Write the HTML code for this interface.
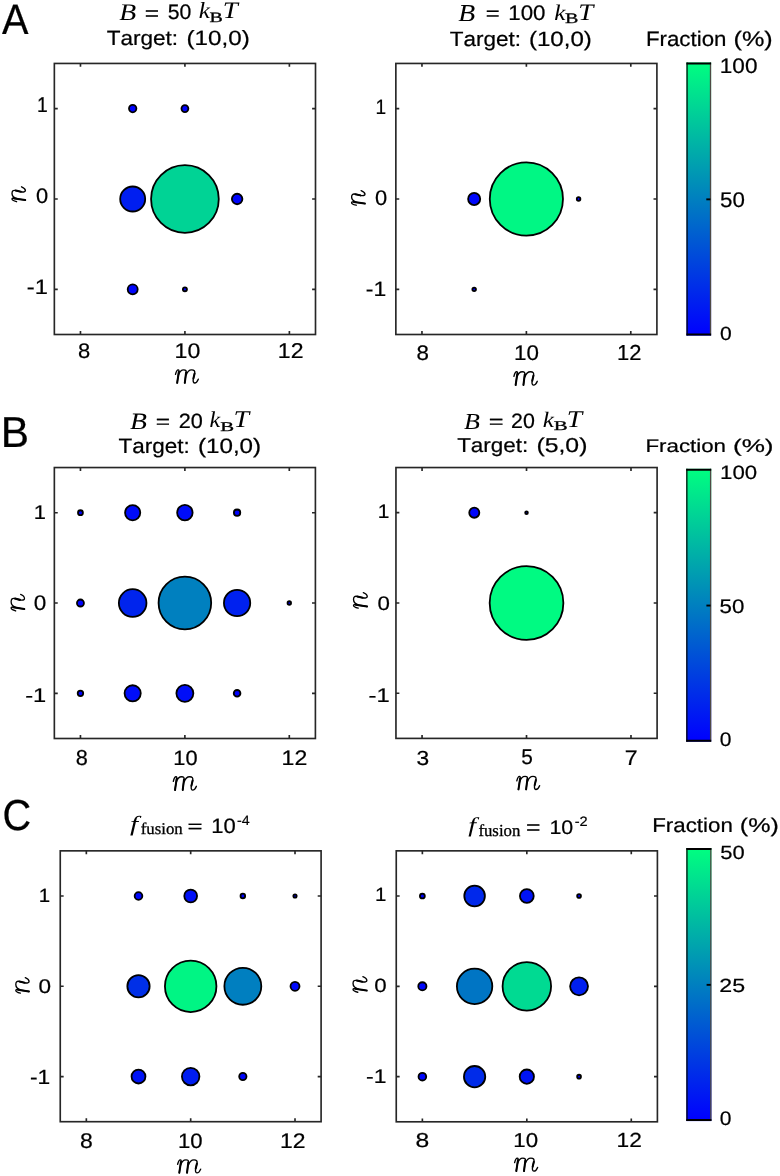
<!DOCTYPE html>
<html><head><meta charset="utf-8"><style>
html,body{margin:0;padding:0;background:#fff;}
svg{display:block;will-change:transform;}
text{font-kerning:none;text-rendering:geometricPrecision;}
</style></head><body>
<svg width="780" height="1176" viewBox="0 0 780 1176">
<rect width="780" height="1176" fill="#fff"/>
<circle cx="132.69" cy="108.62" r="3.70" fill="rgb(0,3,254)" stroke="#000" stroke-width="1.8"/>
<circle cx="184.92" cy="108.62" r="3.45" fill="rgb(0,2,254)" stroke="#000" stroke-width="1.8"/>
<circle cx="132.69" cy="198.98" r="12.50" fill="rgb(0,30,240)" stroke="#000" stroke-width="1.8"/>
<circle cx="184.92" cy="198.98" r="33.85" fill="rgb(0,211,149)" stroke="#000" stroke-width="1.8"/>
<circle cx="237.15" cy="198.98" r="5.25" fill="rgb(0,5,252)" stroke="#000" stroke-width="1.8"/>
<circle cx="132.69" cy="289.33" r="5.00" fill="rgb(0,5,252)" stroke="#000" stroke-width="1.8"/>
<circle cx="184.92" cy="289.33" r="2.05" fill="rgb(0,1,255)" stroke="#000" stroke-width="1.8"/>
<rect x="54.35" y="63.45" width="261.15" height="271.05" fill="none" stroke="#262626" stroke-width="1.65"/>
<path d="M80.47,334.50v-3.4M80.47,63.45v3.4M184.92,334.50v-3.4M184.92,63.45v3.4M289.38,334.50v-3.4M289.38,63.45v3.4M54.35,289.33h3.4M315.50,289.33h-3.4M54.35,198.98h3.4M315.50,198.98h-3.4M54.35,108.62h3.4M315.50,108.62h-3.4" stroke="#262626" stroke-width="1.65" fill="none"/>
<circle cx="474.17" cy="198.98" r="6.05" fill="rgb(0,7,251)" stroke="#000" stroke-width="1.8"/>
<circle cx="526.38" cy="198.98" r="36.60" fill="rgb(0,247,132)" stroke="#000" stroke-width="1.8"/>
<circle cx="578.59" cy="198.98" r="1.80" fill="rgb(0,1,255)" stroke="#000" stroke-width="1.8"/>
<circle cx="474.17" cy="289.33" r="1.80" fill="rgb(0,1,255)" stroke="#000" stroke-width="1.8"/>
<rect x="395.85" y="63.45" width="261.05" height="271.05" fill="none" stroke="#262626" stroke-width="1.65"/>
<path d="M421.96,334.50v-3.4M421.96,63.45v3.4M526.38,334.50v-3.4M526.38,63.45v3.4M630.79,334.50v-3.4M630.79,63.45v3.4M395.85,289.33h3.4M656.90,289.33h-3.4M395.85,198.98h3.4M656.90,198.98h-3.4M395.85,108.62h3.4M656.90,108.62h-3.4" stroke="#262626" stroke-width="1.65" fill="none"/>
<defs><linearGradient id="ga" x1="0" y1="1" x2="0" y2="0"><stop offset="0" stop-color="rgb(0,0,255)"/><stop offset="1" stop-color="rgb(0,255,128)"/></linearGradient></defs>
<rect x="686.50" y="62.50" width="24.60" height="273.10" fill="url(#ga)"/>
<path d="M687.05,62.50V335.60" stroke="#000" stroke-width="1.2" fill="none"/>
<path d="M710.50,62.50V335.60" stroke="#4f4a45" stroke-width="1.3" fill="none"/>
<path d="M686.50,63.50H711.10M686.50,334.60H711.10" stroke="#000" stroke-width="2" fill="none"/>
<path d="M710.50,199.35h-4.2" stroke="#000" stroke-width="1.9" fill="none"/>
<circle cx="80.45" cy="512.71" r="2.45" fill="rgb(0,1,254)" stroke="#000" stroke-width="1.8"/>
<circle cx="132.66" cy="512.71" r="7.60" fill="rgb(0,11,249)" stroke="#000" stroke-width="1.8"/>
<circle cx="184.88" cy="512.71" r="7.75" fill="rgb(0,12,249)" stroke="#000" stroke-width="1.8"/>
<circle cx="237.09" cy="512.71" r="3.20" fill="rgb(0,2,254)" stroke="#000" stroke-width="1.8"/>
<circle cx="80.45" cy="603.02" r="3.50" fill="rgb(0,3,254)" stroke="#000" stroke-width="1.8"/>
<circle cx="132.66" cy="603.02" r="13.80" fill="rgb(0,36,237)" stroke="#000" stroke-width="1.8"/>
<circle cx="184.88" cy="603.02" r="26.30" fill="rgb(0,128,191)" stroke="#000" stroke-width="1.8"/>
<circle cx="237.09" cy="603.02" r="13.15" fill="rgb(0,33,239)" stroke="#000" stroke-width="1.8"/>
<circle cx="289.30" cy="603.02" r="1.75" fill="rgb(0,1,255)" stroke="#000" stroke-width="1.8"/>
<circle cx="80.45" cy="693.34" r="2.75" fill="rgb(0,2,254)" stroke="#000" stroke-width="1.8"/>
<circle cx="132.66" cy="693.34" r="8.10" fill="rgb(0,13,249)" stroke="#000" stroke-width="1.8"/>
<circle cx="184.88" cy="693.34" r="8.50" fill="rgb(0,14,248)" stroke="#000" stroke-width="1.8"/>
<circle cx="237.09" cy="693.34" r="3.35" fill="rgb(0,2,254)" stroke="#000" stroke-width="1.8"/>
<rect x="54.35" y="467.55" width="261.05" height="270.95" fill="none" stroke="#262626" stroke-width="1.65"/>
<path d="M80.45,738.50v-3.4M80.45,467.55v3.4M184.88,738.50v-3.4M184.88,467.55v3.4M289.30,738.50v-3.4M289.30,467.55v3.4M54.35,693.34h3.4M315.40,693.34h-3.4M54.35,603.02h3.4M315.40,603.02h-3.4M54.35,512.71h3.4M315.40,512.71h-3.4" stroke="#262626" stroke-width="1.65" fill="none"/>
<circle cx="474.29" cy="512.69" r="5.05" fill="rgb(0,5,252)" stroke="#000" stroke-width="1.8"/>
<circle cx="526.52" cy="512.69" r="1.35" fill="rgb(0,0,255)" stroke="#000" stroke-width="1.8"/>
<circle cx="526.52" cy="602.98" r="36.85" fill="rgb(0,250,130)" stroke="#000" stroke-width="1.8"/>
<rect x="395.95" y="467.55" width="261.15" height="270.85" fill="none" stroke="#262626" stroke-width="1.65"/>
<path d="M422.06,738.40v-3.4M422.06,467.55v3.4M526.52,738.40v-3.4M526.52,467.55v3.4M630.99,738.40v-3.4M630.99,467.55v3.4M395.95,693.26h3.4M657.10,693.26h-3.4M395.95,602.98h3.4M657.10,602.98h-3.4M395.95,512.69h3.4M657.10,512.69h-3.4" stroke="#262626" stroke-width="1.65" fill="none"/>
<defs><linearGradient id="gb" x1="0" y1="1" x2="0" y2="0"><stop offset="0" stop-color="rgb(0,0,255)"/><stop offset="1" stop-color="rgb(0,255,128)"/></linearGradient></defs>
<rect x="686.30" y="468.80" width="24.90" height="272.90" fill="url(#gb)"/>
<path d="M686.85,468.80V741.70" stroke="#000" stroke-width="1.2" fill="none"/>
<path d="M710.60,468.80V741.70" stroke="#4f4a45" stroke-width="1.3" fill="none"/>
<path d="M686.30,469.80H711.20M686.30,740.70H711.20" stroke="#000" stroke-width="2" fill="none"/>
<path d="M710.60,605.55h-4.2" stroke="#000" stroke-width="1.9" fill="none"/>
<circle cx="138.50" cy="895.99" r="3.85" fill="rgb(0,6,252)" stroke="#000" stroke-width="1.8"/>
<circle cx="190.68" cy="895.99" r="6.40" fill="rgb(0,16,247)" stroke="#000" stroke-width="1.8"/>
<circle cx="242.84" cy="895.99" r="2.30" fill="rgb(0,2,254)" stroke="#000" stroke-width="1.8"/>
<circle cx="295.01" cy="895.99" r="1.65" fill="rgb(0,1,254)" stroke="#000" stroke-width="1.8"/>
<circle cx="138.50" cy="986.28" r="11.15" fill="rgb(0,47,231)" stroke="#000" stroke-width="1.8"/>
<circle cx="190.68" cy="986.28" r="25.75" fill="rgb(0,245,132)" stroke="#000" stroke-width="1.8"/>
<circle cx="242.84" cy="986.28" r="18.45" fill="rgb(0,127,192)" stroke="#000" stroke-width="1.8"/>
<circle cx="295.01" cy="986.28" r="4.50" fill="rgb(0,8,251)" stroke="#000" stroke-width="1.8"/>
<circle cx="138.50" cy="1076.56" r="6.95" fill="rgb(0,19,246)" stroke="#000" stroke-width="1.8"/>
<circle cx="190.68" cy="1076.56" r="8.75" fill="rgb(0,29,240)" stroke="#000" stroke-width="1.8"/>
<circle cx="242.84" cy="1076.56" r="3.65" fill="rgb(0,6,252)" stroke="#000" stroke-width="1.8"/>
<rect x="60.25" y="850.85" width="260.85" height="270.85" fill="none" stroke="#262626" stroke-width="1.65"/>
<path d="M86.34,1121.70v-3.4M86.34,850.85v3.4M190.68,1121.70v-3.4M190.68,850.85v3.4M295.01,1121.70v-3.4M295.01,850.85v3.4M60.25,1076.56h3.4M321.10,1076.56h-3.4M60.25,986.28h3.4M321.10,986.28h-3.4M60.25,895.99h3.4M321.10,895.99h-3.4" stroke="#262626" stroke-width="1.65" fill="none"/>
<circle cx="422.37" cy="896.01" r="2.45" fill="rgb(0,3,254)" stroke="#000" stroke-width="1.8"/>
<circle cx="474.60" cy="896.01" r="10.30" fill="rgb(0,40,235)" stroke="#000" stroke-width="1.8"/>
<circle cx="526.83" cy="896.01" r="6.90" fill="rgb(0,19,246)" stroke="#000" stroke-width="1.8"/>
<circle cx="579.05" cy="896.01" r="1.90" fill="rgb(0,2,254)" stroke="#000" stroke-width="1.8"/>
<circle cx="422.37" cy="986.33" r="4.10" fill="rgb(0,7,252)" stroke="#000" stroke-width="1.8"/>
<circle cx="474.60" cy="986.33" r="17.70" fill="rgb(0,117,196)" stroke="#000" stroke-width="1.8"/>
<circle cx="526.83" cy="986.33" r="24.25" fill="rgb(0,218,146)" stroke="#000" stroke-width="1.8"/>
<circle cx="579.05" cy="986.33" r="8.95" fill="rgb(0,31,240)" stroke="#000" stroke-width="1.8"/>
<circle cx="422.37" cy="1076.64" r="3.85" fill="rgb(0,6,252)" stroke="#000" stroke-width="1.8"/>
<circle cx="474.60" cy="1076.64" r="10.65" fill="rgb(0,43,233)" stroke="#000" stroke-width="1.8"/>
<circle cx="526.83" cy="1076.64" r="7.15" fill="rgb(0,20,245)" stroke="#000" stroke-width="1.8"/>
<circle cx="579.05" cy="1076.64" r="1.90" fill="rgb(0,2,254)" stroke="#000" stroke-width="1.8"/>
<rect x="396.25" y="850.85" width="261.15" height="270.95" fill="none" stroke="#262626" stroke-width="1.65"/>
<path d="M422.37,1121.80v-3.4M422.37,850.85v3.4M526.83,1121.80v-3.4M526.83,850.85v3.4M631.28,1121.80v-3.4M631.28,850.85v3.4M396.25,1076.64h3.4M657.40,1076.64h-3.4M396.25,986.33h3.4M657.40,986.33h-3.4M396.25,896.01h3.4M657.40,896.01h-3.4" stroke="#262626" stroke-width="1.65" fill="none"/>
<defs><linearGradient id="gc" x1="0" y1="1" x2="0" y2="0"><stop offset="0" stop-color="rgb(0,0,255)"/><stop offset="1" stop-color="rgb(0,255,128)"/></linearGradient></defs>
<rect x="686.40" y="848.00" width="25.00" height="273.10" fill="url(#gc)"/>
<path d="M686.95,848.00V1121.10" stroke="#000" stroke-width="1.2" fill="none"/>
<path d="M710.80,848.00V1121.10" stroke="#4f4a45" stroke-width="1.3" fill="none"/>
<path d="M686.40,849.00H711.40M686.40,1120.10H711.40" stroke="#000" stroke-width="2" fill="none"/>
<path d="M710.80,984.85h-4.2" stroke="#000" stroke-width="1.9" fill="none"/>
<text transform="translate(2.10,33.80) scale(0.9312,1)" font-family='"Liberation Sans", sans-serif' font-size="42.63" style="" fill="#000" stroke="#000" stroke-width="0.22">A</text>
<text transform="translate(0.81,446.50) scale(0.9819,1)" font-family='"Liberation Sans", sans-serif' font-size="43.21" style="" fill="#000" stroke="#000" stroke-width="0.22">B</text>
<text transform="translate(2.62,829.57) scale(0.9148,1)" font-family='"Liberation Sans", sans-serif' font-size="43.38" style="" fill="#000" stroke="#000" stroke-width="0.22">C</text>
<text transform="translate(119.22,19.90) scale(1.1655,1)" font-family='"Liberation Serif", serif' font-size="23.82" style="font-style:italic;" fill="#000">B</text>
<text transform="translate(144.77,19.55) scale(1.2463,1)" font-family='"Liberation Sans", sans-serif' font-size="19.69" style="" fill="#000" stroke="#000" stroke-width="0.22">=</text>
<text transform="translate(167.75,19.29) scale(1.0129,1)" font-family='"Liberation Sans", sans-serif' font-size="20.99" style="" fill="#000" stroke="#000" stroke-width="0.22">50</text>
<text transform="translate(198.64,18.30) scale(1.0936,1)" font-family='"Liberation Serif", serif' font-size="23.02" style="font-style:italic;" fill="#000">k</text>
<text transform="translate(209.50,21.50) scale(1.3936,1)" font-family='"Liberation Serif", serif' font-size="14.35" style="" fill="#000" stroke="#000" stroke-width="0.3">B</text>
<text transform="translate(222.74,17.90) scale(1.1375,1)" font-family='"Liberation Serif", serif' font-size="23.82" style="font-style:italic;" fill="#000">T</text>
<text transform="translate(106.64,44.90) scale(1.0959,1)" font-family='"Liberation Sans", sans-serif' font-size="20.58" fill="#000" stroke="#000" stroke-width="0.22">Target:</text>
<text transform="translate(186.55,44.90) scale(1.1745,1)" font-family='"Liberation Sans", sans-serif' font-size="20.58" fill="#000" stroke="#000" stroke-width="0.22">(10,0)</text>
<text transform="translate(458.32,20.80) scale(1.1435,1)" font-family='"Liberation Serif", serif' font-size="24.27" style="font-style:italic;" fill="#000">B</text>
<text transform="translate(485.70,19.59) scale(1.2345,1)" font-family='"Liberation Sans", sans-serif' font-size="19.38" style="" fill="#000" stroke="#000" stroke-width="0.22">=</text>
<text transform="translate(508.23,19.79) scale(1.0633,1)" font-family='"Liberation Sans", sans-serif' font-size="20.99" style="" fill="#000" stroke="#000" stroke-width="0.22">100</text>
<text transform="translate(554.14,19.50) scale(1.1216,1)" font-family='"Liberation Serif", serif' font-size="22.45" style="font-style:italic;" fill="#000">k</text>
<text transform="translate(565.00,22.80) scale(1.3789,1)" font-family='"Liberation Serif", serif' font-size="14.50" style="" fill="#000" stroke="#000" stroke-width="0.3">B</text>
<text transform="translate(578.24,19.50) scale(1.1375,1)" font-family='"Liberation Serif", serif' font-size="23.82" style="font-style:italic;" fill="#000">T</text>
<text transform="translate(449.84,45.60) scale(1.0850,1)" font-family='"Liberation Sans", sans-serif' font-size="20.73" fill="#000" stroke="#000" stroke-width="0.22">Target:</text>
<text transform="translate(528.95,45.60) scale(1.1624,1)" font-family='"Liberation Sans", sans-serif' font-size="20.73" fill="#000" stroke="#000" stroke-width="0.22">(10,0)</text>
<text transform="translate(645.92,45.50) scale(1.0649,1)" font-family='"Liberation Sans", sans-serif' font-size="20.95" fill="#000" stroke="#000" stroke-width="0.22">Fraction</text>
<text transform="translate(733.49,45.50) scale(1.2042,1)" font-family='"Liberation Sans", sans-serif' font-size="20.95" fill="#000" stroke="#000" stroke-width="0.22">(%)</text>
<text transform="translate(719.81,73.39) scale(1.0756,1)" font-family='"Liberation Sans", sans-serif' font-size="20.99" style="" fill="#000" stroke="#000" stroke-width="0.22">100</text>
<text transform="translate(720.11,206.99) scale(1.0494,1)" font-family='"Liberation Sans", sans-serif' font-size="21.27" style="" fill="#000" stroke="#000" stroke-width="0.22">50</text>
<text transform="translate(719.96,339.51) scale(1.1072,1)" font-family='"Liberation Sans", sans-serif' font-size="19.01" style="" fill="#000" stroke="#000" stroke-width="0.22">0</text>
<text transform="translate(36.95,111.90) scale(0.8995,1)" font-family='"Liberation Sans", sans-serif' font-size="21.46" style="" fill="#000" stroke="#000" stroke-width="0.22">1</text>
<text transform="translate(36.02,202.99) scale(1.0433,1)" font-family='"Liberation Sans", sans-serif' font-size="20.99" style="" fill="#000" stroke="#000" stroke-width="0.22">0</text>
<text transform="translate(26.84,294.20) scale(1.1328,1)" font-family='"Liberation Sans", sans-serif' font-size="20.88" style="" fill="#000" stroke="#000" stroke-width="0.22">-1</text>
<text transform="translate(77.91,357.69) scale(1.0373,1)" font-family='"Liberation Sans", sans-serif' font-size="21.13" style="" fill="#000" stroke="#000" stroke-width="0.22">8</text>
<text transform="translate(174.57,357.69) scale(1.0934,1)" font-family='"Liberation Sans", sans-serif' font-size="21.13" style="" fill="#000" stroke="#000" stroke-width="0.22">10</text>
<text transform="translate(277.87,357.90) scale(1.0755,1)" font-family='"Liberation Sans", sans-serif' font-size="21.43" style="" fill="#000" stroke="#000" stroke-width="0.22">12</text>
<g transform="translate(174.90,369.00) scale(1.0000,1.0000)" fill="none" stroke="#000" stroke-linecap="round"><path d="M0.6,5.3C1.2,3 2.2,0.8 3.2,0.8C4.2,0.8 4.2,1.8 3.9,3L2.2,14M3.6,6C4.6,2.5 6.8,0.8 8.9,0.8C10.8,0.8 11.6,1.6 11.2,3.5L9.9,14M11.3,6C12.4,2.5 14.6,0.8 16.8,0.8C19.2,0.8 20.4,2 19.7,4.5L18.4,9.8C18,12 18.4,14 19.6,14C21.2,14 22.7,12 23.4,10.2" stroke-width="1.350"/><path d="M3.9,3L2.3,13.8M11.2,3.5L9.9,13.8M19.7,4.5L18.5,9.6" stroke-width="2.000"/></g>
<g transform="translate(11.20,202.30) rotate(-90) scale(1.0000,1.0135)" fill="none" stroke="#000" stroke-linecap="round"><path d="M0.6,5.3C1.2,3 2.2,0.8 3.2,0.8C4.2,0.8 4.2,1.8 3.9,3L2.2,14M3.6,6C4.6,2.5 6.8,0.8 8.9,0.8C11.3,0.8 12.5,2 11.8,4.5L10.5,9.8C10.1,12 10.5,14 11.7,14C13.3,14 14.8,12 15.5,10.2" stroke-width="1.341"/><path d="M3.9,3L2.3,13.8M11.8,4.5L10.6,9.6" stroke-width="1.987"/></g>
<text transform="translate(375.47,113.80) scale(0.9135,1)" font-family='"Liberation Sans", sans-serif' font-size="20.88" style="" fill="#000" stroke="#000" stroke-width="0.22">1</text>
<text transform="translate(374.92,205.19) scale(1.0364,1)" font-family='"Liberation Sans", sans-serif' font-size="21.13" style="" fill="#000" stroke="#000" stroke-width="0.22">0</text>
<text transform="translate(365.87,296.00) scale(1.1122,1)" font-family='"Liberation Sans", sans-serif' font-size="20.58" style="" fill="#000" stroke="#000" stroke-width="0.22">-1</text>
<text transform="translate(416.39,359.69) scale(1.0645,1)" font-family='"Liberation Sans", sans-serif' font-size="20.99" style="" fill="#000" stroke="#000" stroke-width="0.22">8</text>
<text transform="translate(513.92,359.79) scale(1.0532,1)" font-family='"Liberation Sans", sans-serif' font-size="21.27" style="" fill="#000" stroke="#000" stroke-width="0.22">10</text>
<text transform="translate(617.06,359.90) scale(1.0099,1)" font-family='"Liberation Sans", sans-serif' font-size="21.71" style="" fill="#000" stroke="#000" stroke-width="0.22">12</text>
<g transform="translate(513.30,370.90) scale(1.0249,1.0203)" fill="none" stroke="#000" stroke-linecap="round"><path d="M0.6,5.3C1.2,3 2.2,0.8 3.2,0.8C4.2,0.8 4.2,1.8 3.9,3L2.2,14M3.6,6C4.6,2.5 6.8,0.8 8.9,0.8C10.8,0.8 11.6,1.6 11.2,3.5L9.9,14M11.3,6C12.4,2.5 14.6,0.8 16.8,0.8C19.2,0.8 20.4,2 19.7,4.5L18.4,9.8C18,12 18.4,14 19.6,14C21.2,14 22.7,12 23.4,10.2" stroke-width="1.320"/><path d="M3.9,3L2.3,13.8M11.2,3.5L9.9,13.8M19.7,4.5L18.5,9.6" stroke-width="1.956"/></g>
<g transform="translate(350.80,205.80) rotate(-90) scale(0.9814,1.0135)" fill="none" stroke="#000" stroke-linecap="round"><path d="M0.6,5.3C1.2,3 2.2,0.8 3.2,0.8C4.2,0.8 4.2,1.8 3.9,3L2.2,14M3.6,6C4.6,2.5 6.8,0.8 8.9,0.8C11.3,0.8 12.5,2 11.8,4.5L10.5,9.8C10.1,12 10.5,14 11.7,14C13.3,14 14.8,12 15.5,10.2" stroke-width="1.353"/><path d="M3.9,3L2.3,13.8M11.8,4.5L10.6,9.6" stroke-width="2.005"/></g>
<text transform="translate(130.12,429.40) scale(1.1806,1)" font-family='"Liberation Serif", serif' font-size="23.51" style="font-style:italic;" fill="#000">B</text>
<text transform="translate(155.87,428.09) scale(1.3086,1)" font-family='"Liberation Sans", sans-serif' font-size="18.75" style="" fill="#000" stroke="#000" stroke-width="0.22">=</text>
<text transform="translate(178.72,428.29) scale(1.0461,1)" font-family='"Liberation Sans", sans-serif' font-size="20.70" style="" fill="#000" stroke="#000" stroke-width="0.22">20</text>
<text transform="translate(209.58,427.40) scale(1.0624,1)" font-family='"Liberation Serif", serif' font-size="22.59" style="font-style:italic;" fill="#000">k</text>
<text transform="translate(220.37,430.60) scale(1.5695,1)" font-family='"Liberation Serif", serif' font-size="13.28" style="" fill="#000" stroke="#000" stroke-width="0.3">B</text>
<text transform="translate(233.58,427.40) scale(1.1682,1)" font-family='"Liberation Serif", serif' font-size="23.97" style="font-style:italic;" fill="#000">T</text>
<text transform="translate(118.44,452.80) scale(1.0774,1)" font-family='"Liberation Sans", sans-serif' font-size="20.88" fill="#000" stroke="#000" stroke-width="0.22">Target:</text>
<text transform="translate(197.95,452.80) scale(1.1581,1)" font-family='"Liberation Sans", sans-serif' font-size="20.88" fill="#000" stroke="#000" stroke-width="0.22">(10,0)</text>
<text transform="translate(464.04,428.50) scale(1.1368,1)" font-family='"Liberation Serif", serif' font-size="22.90" style="font-style:italic;" fill="#000">B</text>
<text transform="translate(488.63,427.99) scale(1.3526,1)" font-family='"Liberation Sans", sans-serif' font-size="18.75" style="" fill="#000" stroke="#000" stroke-width="0.22">=</text>
<text transform="translate(511.03,428.09) scale(1.0250,1)" font-family='"Liberation Sans", sans-serif' font-size="20.85" style="" fill="#000" stroke="#000" stroke-width="0.22">20</text>
<text transform="translate(542.84,426.90) scale(1.1362,1)" font-family='"Liberation Serif", serif' font-size="22.16" style="font-style:italic;" fill="#000">k</text>
<text transform="translate(553.87,430.00) scale(1.5517,1)" font-family='"Liberation Serif", serif' font-size="13.44" style="" fill="#000" stroke="#000" stroke-width="0.3">B</text>
<text transform="translate(566.80,426.90) scale(1.1530,1)" font-family='"Liberation Serif", serif' font-size="23.97" style="font-style:italic;" fill="#000">T</text>
<text transform="translate(457.14,451.90) scale(1.1148,1)" font-family='"Liberation Sans", sans-serif' font-size="20.15" fill="#000" stroke="#000" stroke-width="0.22">Target:</text>
<text transform="translate(536.41,451.90) scale(1.2313,1)" font-family='"Liberation Sans", sans-serif' font-size="20.15" fill="#000" stroke="#000" stroke-width="0.22">(5,0)</text>
<text transform="translate(645.42,451.90) scale(1.2225,1)" font-family='"Liberation Sans", sans-serif' font-size="18.25" fill="#000" stroke="#000" stroke-width="0.22">Fraction</text>
<text transform="translate(732.93,451.90) scale(1.4321,1)" font-family='"Liberation Sans", sans-serif' font-size="18.25" fill="#000" stroke="#000" stroke-width="0.22">(%)</text>
<text transform="translate(720.03,479.41) scale(1.1531,1)" font-family='"Liberation Sans", sans-serif' font-size="19.30" style="" fill="#000" stroke="#000" stroke-width="0.22">100</text>
<text transform="translate(719.61,613.20) scale(1.1319,1)" font-family='"Liberation Sans", sans-serif' font-size="19.72" style="" fill="#000" stroke="#000" stroke-width="0.22">50</text>
<text transform="translate(719.66,746.40) scale(1.0677,1)" font-family='"Liberation Sans", sans-serif' font-size="19.72" style="" fill="#000" stroke="#000" stroke-width="0.22">0</text>
<text transform="translate(33.86,519.40) scale(1.1092,1)" font-family='"Liberation Sans", sans-serif' font-size="19.71" style="" fill="#000" stroke="#000" stroke-width="0.22">1</text>
<text transform="translate(33.70,610.49) scale(1.0662,1)" font-family='"Liberation Sans", sans-serif' font-size="21.13" style="" fill="#000" stroke="#000" stroke-width="0.22">0</text>
<text transform="translate(25.14,702.30) scale(1.1999,1)" font-family='"Liberation Sans", sans-serif' font-size="19.71" style="" fill="#000" stroke="#000" stroke-width="0.22">-1</text>
<text transform="translate(75.72,765.38) scale(1.0071,1)" font-family='"Liberation Sans", sans-serif' font-size="21.55" style="" fill="#000" stroke="#000" stroke-width="0.22">8</text>
<text transform="translate(173.27,765.09) scale(1.0529,1)" font-family='"Liberation Sans", sans-serif' font-size="20.70" style="" fill="#000" stroke="#000" stroke-width="0.22">10</text>
<text transform="translate(281.57,765.30) scale(1.0974,1)" font-family='"Liberation Sans", sans-serif' font-size="21.00" style="" fill="#000" stroke="#000" stroke-width="0.22">12</text>
<g transform="translate(172.70,775.90) scale(1.0124,1.0203)" fill="none" stroke="#000" stroke-linecap="round"><path d="M0.6,5.3C1.2,3 2.2,0.8 3.2,0.8C4.2,0.8 4.2,1.8 3.9,3L2.2,14M3.6,6C4.6,2.5 6.8,0.8 8.9,0.8C10.8,0.8 11.6,1.6 11.2,3.5L9.9,14M11.3,6C12.4,2.5 14.6,0.8 16.8,0.8C19.2,0.8 20.4,2 19.7,4.5L18.4,9.8C18,12 18.4,14 19.6,14C21.2,14 22.7,12 23.4,10.2" stroke-width="1.328"/><path d="M3.9,3L2.3,13.8M11.2,3.5L9.9,13.8M19.7,4.5L18.5,9.6" stroke-width="1.968"/></g>
<g transform="translate(10.30,611.60) rotate(-90) scale(1.1056,1.0135)" fill="none" stroke="#000" stroke-linecap="round"><path d="M0.6,5.3C1.2,3 2.2,0.8 3.2,0.8C4.2,0.8 4.2,1.8 3.9,3L2.2,14M3.6,6C4.6,2.5 6.8,0.8 8.9,0.8C11.3,0.8 12.5,2 11.8,4.5L10.5,9.8C10.1,12 10.5,14 11.7,14C13.3,14 14.8,12 15.5,10.2" stroke-width="1.274"/><path d="M3.9,3L2.3,13.8M11.8,4.5L10.6,9.6" stroke-width="1.888"/></g>
<text transform="translate(377.73,518.40) scale(1.0699,1)" font-family='"Liberation Sans", sans-serif' font-size="19.56" style="" fill="#000" stroke="#000" stroke-width="0.22">1</text>
<text transform="translate(377.51,609.80) scale(1.1317,1)" font-family='"Liberation Sans", sans-serif' font-size="19.72" style="" fill="#000" stroke="#000" stroke-width="0.22">0</text>
<text transform="translate(368.53,702.00) scale(1.2063,1)" font-family='"Liberation Sans", sans-serif' font-size="19.71" style="" fill="#000" stroke="#000" stroke-width="0.22">-1</text>
<text transform="translate(416.39,764.80) scale(1.1147,1)" font-family='"Liberation Sans", sans-serif' font-size="20.42" style="" fill="#000" stroke="#000" stroke-width="0.22">3</text>
<text transform="translate(521.17,764.49) scale(0.9787,1)" font-family='"Liberation Sans", sans-serif' font-size="21.29" style="" fill="#000" stroke="#000" stroke-width="0.22">5</text>
<text transform="translate(624.85,765.00) scale(1.0902,1)" font-family='"Liberation Sans", sans-serif' font-size="21.17" style="" fill="#000" stroke="#000" stroke-width="0.22">7</text>
<g transform="translate(516.20,775.60) scale(1.0000,0.9932)" fill="none" stroke="#000" stroke-linecap="round"><path d="M0.6,5.3C1.2,3 2.2,0.8 3.2,0.8C4.2,0.8 4.2,1.8 3.9,3L2.2,14M3.6,6C4.6,2.5 6.8,0.8 8.9,0.8C10.8,0.8 11.6,1.6 11.2,3.5L9.9,14M11.3,6C12.4,2.5 14.6,0.8 16.8,0.8C19.2,0.8 20.4,2 19.7,4.5L18.4,9.8C18,12 18.4,14 19.6,14C21.2,14 22.7,12 23.4,10.2" stroke-width="1.355"/><path d="M3.9,3L2.3,13.8M11.2,3.5L9.9,13.8M19.7,4.5L18.5,9.6" stroke-width="2.007"/></g>
<g transform="translate(352.70,608.80) rotate(-90) scale(1.0435,1.0405)" fill="none" stroke="#000" stroke-linecap="round"><path d="M0.6,5.3C1.2,3 2.2,0.8 3.2,0.8C4.2,0.8 4.2,1.8 3.9,3L2.2,14M3.6,6C4.6,2.5 6.8,0.8 8.9,0.8C11.3,0.8 12.5,2 11.8,4.5L10.5,9.8C10.1,12 10.5,14 11.7,14C13.3,14 14.8,12 15.5,10.2" stroke-width="1.296"/><path d="M3.9,3L2.3,13.8M11.8,4.5L10.6,9.6" stroke-width="1.919"/></g>
<text transform="translate(130.11,831.26) scale(1.3444,1)" font-family='"Liberation Serif", serif' font-size="21.64" style="font-style:italic;" fill="#000">f</text>
<text transform="translate(140.70,834.40) scale(1.0224,1)" font-family='"Liberation Serif", serif' font-size="16.45" style="" fill="#000" stroke="#000" stroke-width="0.3">fusion</text>
<text transform="translate(187.41,832.37) scale(1.5273,1)" font-family='"Liberation Sans", sans-serif' font-size="16.87" style="" fill="#000" stroke="#000" stroke-width="0.22">=</text>
<text transform="translate(211.25,833.29) scale(1.0554,1)" font-family='"Liberation Sans", sans-serif' font-size="20.85" style="" fill="#000" stroke="#000" stroke-width="0.22">10</text>
<text transform="translate(236.96,825.30) scale(1.0484,1)" font-family='"Liberation Sans", sans-serif' font-size="13.58" style="" fill="#000" stroke="#000" stroke-width="0.22">-4</text>
<text transform="translate(468.22,832.27) scale(1.3299,1)" font-family='"Liberation Serif", serif' font-size="21.09" style="font-style:italic;" fill="#000">f</text>
<text transform="translate(478.40,835.60) scale(0.9942,1)" font-family='"Liberation Serif", serif' font-size="16.88" style="" fill="#000" stroke="#000" stroke-width="0.3">fusion</text>
<text transform="translate(525.96,834.25) scale(1.2568,1)" font-family='"Liberation Sans", sans-serif' font-size="19.69" style="" fill="#000" stroke="#000" stroke-width="0.22">=</text>
<text transform="translate(549.39,833.80) scale(1.0931,1)" font-family='"Liberation Sans", sans-serif' font-size="19.58" style="" fill="#000" stroke="#000" stroke-width="0.22">10</text>
<text transform="translate(574.64,826.40) scale(1.0751,1)" font-family='"Liberation Sans", sans-serif' font-size="13.57" style="" fill="#000" stroke="#000" stroke-width="0.22">-2</text>
<text transform="translate(652.22,831.60) scale(1.1154,1)" font-family='"Liberation Sans", sans-serif' font-size="20.00" fill="#000" stroke="#000" stroke-width="0.22">Fraction</text>
<text transform="translate(739.79,831.60) scale(1.2544,1)" font-family='"Liberation Sans", sans-serif' font-size="20.00" fill="#000" stroke="#000" stroke-width="0.22">(%)</text>
<text transform="translate(720.22,858.71) scale(1.1535,1)" font-family='"Liberation Sans", sans-serif' font-size="19.01" style="" fill="#000" stroke="#000" stroke-width="0.22">50</text>
<text transform="translate(719.34,992.11) scale(1.2220,1)" font-family='"Liberation Sans", sans-serif' font-size="19.01" style="" fill="#000" stroke="#000" stroke-width="0.22">25</text>
<text transform="translate(719.66,1125.20) scale(1.0677,1)" font-family='"Liberation Sans", sans-serif' font-size="19.72" style="" fill="#000" stroke="#000" stroke-width="0.22">0</text>
<text transform="translate(38.67,901.60) scale(1.0701,1)" font-family='"Liberation Sans", sans-serif' font-size="19.12" style="" fill="#000" stroke="#000" stroke-width="0.22">1</text>
<text transform="translate(38.40,992.70) scale(1.1343,1)" font-family='"Liberation Sans", sans-serif' font-size="19.86" style="" fill="#000" stroke="#000" stroke-width="0.22">0</text>
<text transform="translate(29.88,1083.60) scale(1.1140,1)" font-family='"Liberation Sans", sans-serif' font-size="20.44" style="" fill="#000" stroke="#000" stroke-width="0.22">-1</text>
<text transform="translate(79.97,1147.59) scale(1.0805,1)" font-family='"Liberation Sans", sans-serif' font-size="21.27" style="" fill="#000" stroke="#000" stroke-width="0.22">8</text>
<text transform="translate(177.94,1147.59) scale(1.0602,1)" font-family='"Liberation Sans", sans-serif' font-size="20.85" style="" fill="#000" stroke="#000" stroke-width="0.22">10</text>
<text transform="translate(279.98,1147.80) scale(1.0852,1)" font-family='"Liberation Sans", sans-serif' font-size="21.14" style="" fill="#000" stroke="#000" stroke-width="0.22">12</text>
<g transform="translate(177.00,1159.00) scale(1.0124,0.9932)" fill="none" stroke="#000" stroke-linecap="round"><path d="M0.6,5.3C1.2,3 2.2,0.8 3.2,0.8C4.2,0.8 4.2,1.8 3.9,3L2.2,14M3.6,6C4.6,2.5 6.8,0.8 8.9,0.8C10.8,0.8 11.6,1.6 11.2,3.5L9.9,14M11.3,6C12.4,2.5 14.6,0.8 16.8,0.8C19.2,0.8 20.4,2 19.7,4.5L18.4,9.8C18,12 18.4,14 19.6,14C21.2,14 22.7,12 23.4,10.2" stroke-width="1.346"/><path d="M3.9,3L2.3,13.8M11.2,3.5L9.9,13.8M19.7,4.5L18.5,9.6" stroke-width="1.994"/></g>
<g transform="translate(15.00,993.80) rotate(-90) scale(1.0435,1.0068)" fill="none" stroke="#000" stroke-linecap="round"><path d="M0.6,5.3C1.2,3 2.2,0.8 3.2,0.8C4.2,0.8 4.2,1.8 3.9,3L2.2,14M3.6,6C4.6,2.5 6.8,0.8 8.9,0.8C11.3,0.8 12.5,2 11.8,4.5L10.5,9.8C10.1,12 10.5,14 11.7,14C13.3,14 14.8,12 15.5,10.2" stroke-width="1.317"/><path d="M3.9,3L2.3,13.8M11.8,4.5L10.6,9.6" stroke-width="1.951"/></g>
<text transform="translate(374.97,901.20) scale(1.0701,1)" font-family='"Liberation Sans", sans-serif' font-size="19.12" style="" fill="#000" stroke="#000" stroke-width="0.22">1</text>
<text transform="translate(374.31,992.31) scale(1.1565,1)" font-family='"Liberation Sans", sans-serif' font-size="19.30" style="" fill="#000" stroke="#000" stroke-width="0.22">0</text>
<text transform="translate(366.07,1083.00) scale(1.1703,1)" font-family='"Liberation Sans", sans-serif' font-size="19.56" style="" fill="#000" stroke="#000" stroke-width="0.22">-1</text>
<text transform="translate(415.59,1147.10) scale(1.2254,1)" font-family='"Liberation Sans", sans-serif' font-size="20.14" style="" fill="#000" stroke="#000" stroke-width="0.22">8</text>
<text transform="translate(513.33,1147.10) scale(1.1072,1)" font-family='"Liberation Sans", sans-serif' font-size="20.14" style="" fill="#000" stroke="#000" stroke-width="0.22">10</text>
<text transform="translate(616.59,1147.30) scale(1.1132,1)" font-family='"Liberation Sans", sans-serif' font-size="20.43" style="" fill="#000" stroke="#000" stroke-width="0.22">12</text>
<g transform="translate(514.00,1157.30) scale(1.0083,0.9932)" fill="none" stroke="#000" stroke-linecap="round"><path d="M0.6,5.3C1.2,3 2.2,0.8 3.2,0.8C4.2,0.8 4.2,1.8 3.9,3L2.2,14M3.6,6C4.6,2.5 6.8,0.8 8.9,0.8C10.8,0.8 11.6,1.6 11.2,3.5L9.9,14M11.3,6C12.4,2.5 14.6,0.8 16.8,0.8C19.2,0.8 20.4,2 19.7,4.5L18.4,9.8C18,12 18.4,14 19.6,14C21.2,14 22.7,12 23.4,10.2" stroke-width="1.349"/><path d="M3.9,3L2.3,13.8M11.2,3.5L9.9,13.8M19.7,4.5L18.5,9.6" stroke-width="1.998"/></g>
<g transform="translate(352.20,992.90) rotate(-90) scale(1.0497,1.0473)" fill="none" stroke="#000" stroke-linecap="round"><path d="M0.6,5.3C1.2,3 2.2,0.8 3.2,0.8C4.2,0.8 4.2,1.8 3.9,3L2.2,14M3.6,6C4.6,2.5 6.8,0.8 8.9,0.8C11.3,0.8 12.5,2 11.8,4.5L10.5,9.8C10.1,12 10.5,14 11.7,14C13.3,14 14.8,12 15.5,10.2" stroke-width="1.288"/><path d="M3.9,3L2.3,13.8M11.8,4.5L10.6,9.6" stroke-width="1.907"/></g>
</svg>
</body></html>
